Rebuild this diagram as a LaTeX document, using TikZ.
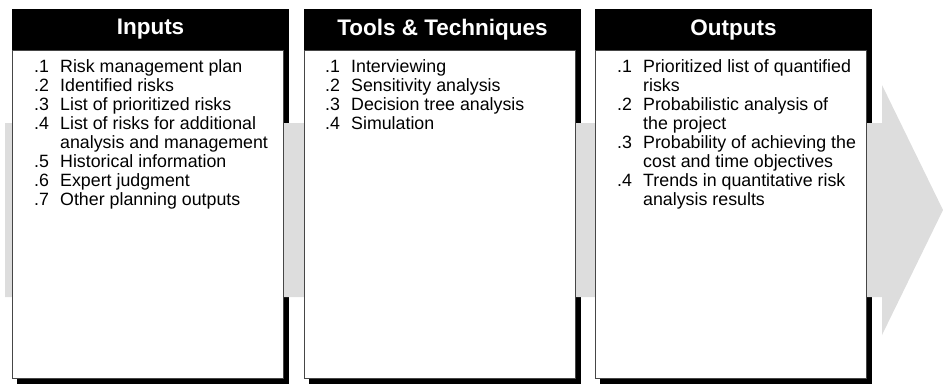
\documentclass[tikz,border=0pt]{standalone}
\usepackage{fontspec}
\setmainfont{Liberation Sans}
\definecolor{BandGray}{RGB}{221,221,221}
\definecolor{EdgeGray}{RGB}{70,70,70}
\usetikzlibrary{positioning}

\newcommand{\steplist}[1]{\begin{tabular}[t]{@{}p{26pt}@{}l@{}}#1\end{tabular}}

\begin{document}
\begin{tikzpicture}[x=1pt, y=-1pt,
	shad/.style={fill=black},
	body/.style={draw=EdgeGray, line width=0.8pt, fill=white, minimum width=271, minimum height=328, anchor=north west, inner sep=0pt, outer sep=0pt},
	head/.style={fill=black, text=white, minimum width=277, minimum height=41, anchor=north west, inner sep=0pt, outer sep=0pt, font=\bfseries\fontsize{22.5}{24}\selectfont},
	lst/.style={anchor=base west, inner sep=0pt, font=\fontsize{17.8}{19}\selectfont}]

	\useasboundingbox (0,0) rectangle (943,384);

	% shadows first, the band arrow goes over them
	\foreach \x in {12,304,595}{\fill[shad] (\x+5,15) rectangle (\x+277,384);}

	\fill[BandGray] (5,123) -- (882,123) -- (882,85) -- (943,210) -- (882,335) -- (882,297) -- (5,297) -- cycle;

	\foreach \x/\n/\t in {12/in/Inputs, 304/tt/{Tools \& Techniques}, 595/out/Outputs}{
		\node[body] (\n B) at (\x,50) {};
		\node[head] (\n H) at (\x,9) {\t};
	}

	\node[lst] (inL) at (34,72) {\steplist{
		.1 & Risk management plan\\
		.2 & Identified risks\\
		.3 & List of prioritized risks\\
		.4 & List of risks for additional\\
		   & analysis and management\\
		.5 & Historical information\\
		.6 & Expert judgment\\
		.7 & Other planning outputs}};

	\node[lst] (ttL) at (325,72) {\steplist{
		.1 & Interviewing\\
		.2 & Sensitivity analysis\\
		.3 & Decision tree analysis\\
		.4 & Simulation}};

	\node[lst] (outL) at (617,72) {\steplist{
		.1 & Prioritized list of quantified\\
		   & risks\\
		.2 & Probabilistic analysis of\\
		   & the project\\
		.3 & Probability of achieving the\\
		   & cost and time objectives\\
		.4 & Trends in quantitative risk\\
		   & analysis results}};
\end{tikzpicture}
\end{document}
